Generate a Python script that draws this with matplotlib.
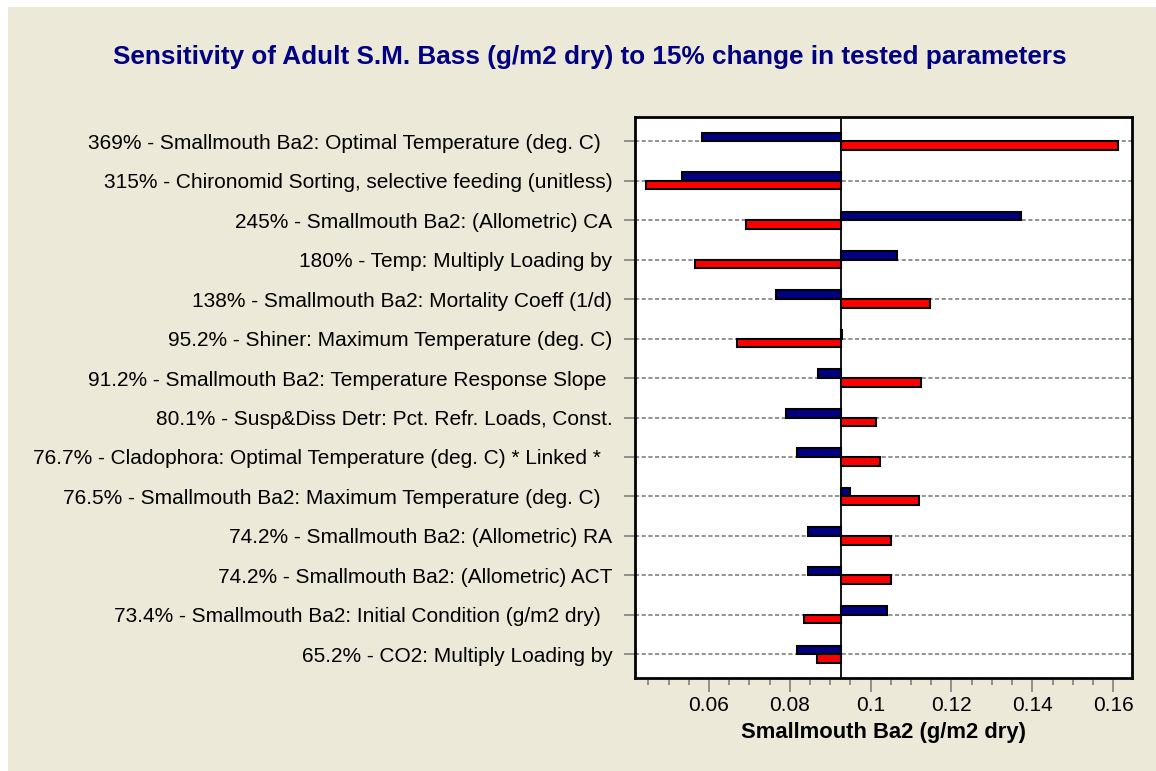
import matplotlib
matplotlib.use("Agg")
import matplotlib.pyplot as plt
from matplotlib.patches import Rectangle
from matplotlib.ticker import MultipleLocator, FixedLocator

plt.rcParams['font.family'] = ['Liberation Sans', 'DejaVu Sans']

labels = [
    "369% - Smallmouth Ba2: Optimal Temperature (deg. C)  ",
    "315% - Chironomid Sorting, selective feeding (unitless)",
    "245% - Smallmouth Ba2: (Allometric) CA",
    "180% - Temp: Multiply Loading by",
    "138% - Smallmouth Ba2: Mortality Coeff (1/d)",
    "95.2% - Shiner: Maximum Temperature (deg. C)",
    "91.2% - Smallmouth Ba2: Temperature Response Slope ",
    "80.1% - Susp&Diss Detr: Pct. Refr. Loads, Const.",
    "76.7% - Cladophora: Optimal Temperature (deg. C) * Linked *  ",
    "76.5% - Smallmouth Ba2: Maximum Temperature (deg. C)  ",
    "74.2% - Smallmouth Ba2: (Allometric) RA",
    "74.2% - Smallmouth Ba2: (Allometric) ACT",
    "73.4% - Smallmouth Ba2: Initial Condition (g/m2 dry)  ",
    "65.2% - CO2: Multiply Loading by",
]
baseline = 0.0927
# result with parameter decreased 15% (blue) and increased 15% (red)
low_vals = [0.0583, 0.0533, 0.1371, 0.1065, 0.0766, 0.0929, 0.0870,
            0.0791, 0.0817, 0.0950, 0.0845, 0.0845, 0.1041, 0.0817]
high_vals = [0.1612, 0.0444, 0.0692, 0.0564, 0.1148, 0.0669, 0.1124,
             0.1014, 0.1024, 0.1119, 0.1051, 0.1051, 0.0836, 0.0867]
xticks = [0.06, 0.08, 0.1, 0.12, 0.14, 0.16]
xtick_labels = ['0.06', '0.08', '0.1', '0.12', '0.14', '0.16']

bg = '#ECE9D8'
fig = plt.figure(figsize=(11.56, 7.71), dpi=100)
fig.patch.set_facecolor('white')
fig.patches.append(Rectangle((8 / 1156, 0), 1, 1 - 7 / 771, transform=fig.transFigure,
                             facecolor=bg, edgecolor='none', zorder=-10))

ax = fig.add_axes([634.7 / 1156, 1 - 678.3 / 771, 497 / 1156, 561 / 771])
ax.set_facecolor('white')

bh = 0.22
rows = list(range(len(labels)))
for i in rows:
    ax.barh(i - bh / 2, low_vals[i] - baseline, left=baseline, height=bh,
            color='#000080', edgecolor='black', linewidth=1.5, zorder=3)
    ax.barh(i + bh / 2, high_vals[i] - baseline, left=baseline, height=bh,
            color='#FF0000', edgecolor='black', linewidth=1.5, zorder=3)

ax.axvline(baseline, color='black', linewidth=1.3, zorder=4)

ax.set_xlim(0.0416, 0.1646)
ax.set_ylim(13.61, -0.61)
ax.set_yticks(rows)
ax.set_yticklabels(labels, fontsize=15)
ax.yaxis.grid(True, color='#808080', linestyle=(0, (2.5, 1.5)), linewidth=1.2)
ax.set_axisbelow(True)
ax.tick_params(axis='y', length=8, width=1.2, color='#808080', pad=8)

ax.xaxis.set_major_locator(FixedLocator(xticks))
ax.xaxis.set_minor_locator(MultipleLocator(0.005))
ax.set_xticklabels(xtick_labels, fontsize=15)
ax.tick_params(axis='x', which='major', length=10, width=1.2, color='#808080', pad=3)
ax.tick_params(axis='x', which='minor', length=5, width=1.2, color='#808080')
ax.set_xlabel('Smallmouth Ba2 (g/m2 dry)', fontsize=15.8, fontweight='bold', labelpad=5)

for s in ax.spines.values():
    s.set_linewidth(2)
    s.set_color('black')

fig.text(0.510, 1 - 57 / 771, 'Sensitivity of Adult S.M. Bass (g/m2 dry) to 15% change in tested parameters',
         ha='center', va='center', fontsize=18.8, fontweight='bold', color='#000080')

fig.savefig('out.png', dpi=100, facecolor=fig.get_facecolor())
